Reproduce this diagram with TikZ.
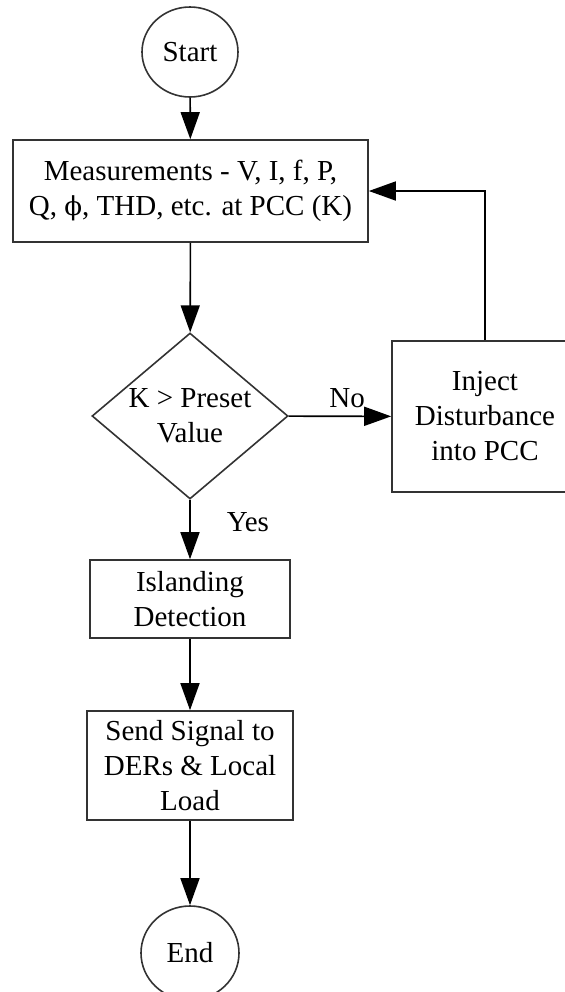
\documentclass[tikz,border=0pt]{standalone}
\usepackage{fontspec}
\setmainfont{Liberation Serif}
\newfontfamily\phifont[Scale=0.9]{DejaVu Serif}
\usetikzlibrary{shapes.geometric,arrows.meta}
\begin{document}
\begin{tikzpicture}[x=0.5pt,y=-0.5pt,line cap=butt,line join=miter,>={Triangle[length=13.5pt,width=9.5pt]},font=\fontsize{14.5}{17.5}\selectfont]
	\tikzset{box/.style={draw=black!80,line width=0.8pt,align=center,inner sep=0pt},
		term/.style={box,ellipse},
		flow/.style={->,line width=0.8pt}}
	\useasboundingbox (0,0) rectangle (565,992);
	\clip (0,0) rectangle (565,992);
	\node[term,minimum width=48pt,minimum height=45pt] (start) at (190,52) {Start};
	\node[box,minimum width=177.5pt,minimum height=51pt] (meas) at (190.5,191) {Measurements - V, I, f, P,\\ Q, {\phifont ϕ}, THD, etc. at PCC (K)};
	\node[box,diamond,aspect=1.18,minimum width=98pt,minimum height=83pt] (dec) at (190,416) {K > Preset\\ Value};
	\node[box,minimum width=93pt,minimum height=75.5pt] (inject) at (485,416.5) {Inject\\ Disturbance\\ into PCC};
	\node[box,minimum width=100pt,minimum height=39pt] (island) at (190,599) {Islanding\\ Detection};
	\node[box,minimum width=103pt,minimum height=54.5pt] (send) at (190,765.5) {Send Signal to\\ DERs \& Local\\ Load};
	\node[term,minimum width=49pt,minimum height=47pt] (end) at (190,953) {End};
	%--------- connectors
	\draw[flow] (start) -- (meas);
	\draw[flow] (meas) -- (dec);
	\draw[flow] (dec) -- node[pos=0.57,above=4pt,inner sep=0pt] (no) {No} (inject);
	\draw[flow] (dec) -- node[pos=0.38,right=18pt,inner sep=0pt] (yes) {Yes} (island);
	\draw[flow] (island) -- (send);
	\draw[flow] (send) -- (end);
	\draw[flow] (inject.north) -- (inject.north |- meas.east) -- (meas.east);
\end{tikzpicture}
\end{document}
